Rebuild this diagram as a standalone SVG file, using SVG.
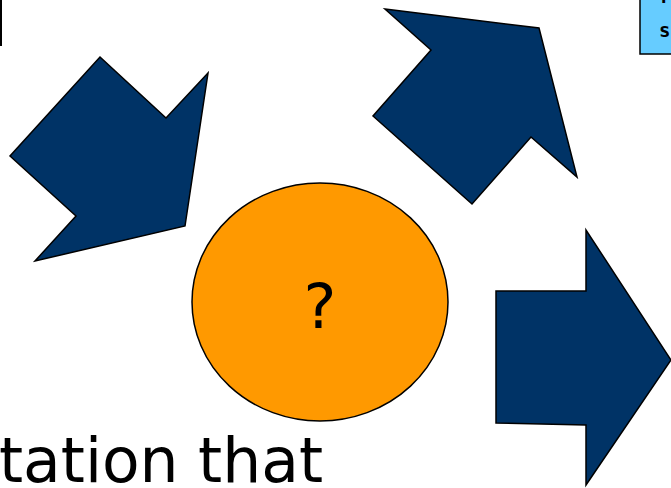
<svg xmlns="http://www.w3.org/2000/svg" width="671" height="488" viewBox="0 0 671 488">
<style>
.arrow{fill:#003366;stroke:#000;stroke-width:1.5;stroke-linejoin:miter}
.big{font-family:"DejaVu Sans",Verdana,sans-serif;fill:#000}
.mono{font-family:"DejaVu Sans Mono","Liberation Mono",monospace;font-weight:bold;fill:#000}
</style>
<rect width="671" height="488" fill="#fff"/>
<g id="box-left">
<line x1="1" y1="0" x2="1" y2="46" stroke="#000" stroke-width="2"/>
</g>
<g id="box-right">
<rect x="640" y="-20" width="60" height="74" fill="#66CCFF" stroke="#000" stroke-width="1.5"/>
<text class="mono" x="658" y="3" font-size="19">T</text>
<text class="mono" x="659" y="37" font-size="19">s</text>
</g>
<g id="arrow-left">
<polygon class="arrow" points="100,57 166,118 208,73 185,226 35,261 76,216 10,156"/>
</g>
<g id="arrow-top">
<polygon class="arrow" points="385,9 539,28 577,177 531,137 472,204 373,116 431,50"/>
</g>
<g id="arrow-right">
<polygon class="arrow" points="496,291 586,291 586,230 671,360 586,485 586,425 496,423"/>
</g>
<g id="circle">
<ellipse cx="320" cy="302" rx="128" ry="119" fill="#FF9900" stroke="#000" stroke-width="1.5"/>
<text class="big" x="320" y="328" font-size="62" text-anchor="middle">?</text>
</g>
<g id="caption">
<text class="big" x="-1" y="482" font-size="62" textLength="324" lengthAdjust="spacingAndGlyphs">tation that</text>
</g>
</svg>
